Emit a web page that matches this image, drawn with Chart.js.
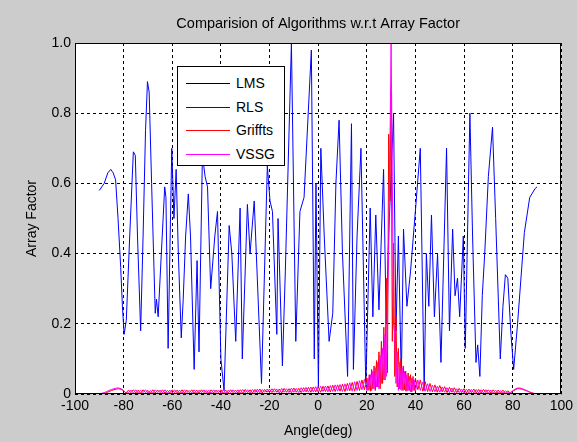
<!DOCTYPE html>
<html>
<head>
<meta charset="utf-8">
<title>Comparision of Algorithms w.r.t Array Factor</title>
<script src="https://cdn.jsdelivr.net/npm/chart.js@4.4.1/dist/chart.umd.min.js"></script>
<style>
  html, body { margin: 0; padding: 0; background: #cccccc; }
  #wrap { position: relative; width: 577px; height: 442px; }
  #legend {
    position: absolute; left: 177px; top: 66px; width: 106px; height: 98px;
    background: #fff; border: 1px solid #000;
    font: 14px 'Liberation Sans', Arial, sans-serif; color: #000;
  }
  #legend .row { position: absolute; left: 0; height: 18px; display: flex; align-items: center; }
  #legend .swatch { margin-left: 8px; width: 44px; height: 0; border-top: 1px solid; }
  #legend .label { margin-left: 6px; }
</style>
</head>
<body>
<div id="wrap">
  <canvas id="afChart" width="577" height="442"></canvas>
  <div id="legend"></div>
</div>
<script>
// Array factor vs. angle for four adaptive beamforming algorithms.

const TITLE = 'Comparision of Algorithms w.r.t Array Factor';
const X_TITLE = 'Angle(deg)';
const Y_TITLE = 'Array Factor';
const SERIES_NAMES = ['LMS', 'RLS', 'Griffts', 'VSSG'];
const X_TICKS = [-100, -80, -60, -40, -20, 0, 20, 40, 60, 80, 100];
const Y_TICKS = [0, 0.2, 0.4, 0.6, 0.8, 1];

// RLS: peaks and nulls of the blue trace
const RLS_ANGLES = [
  -90, -88, -86.5, -85.3, -84.3, -83.3, -82.3, -81.2, -80.5, -79.8,
  -78.9, -77.5, -76, -75.2, -74.3, -73, -72, -71, -70.2, -69.5,
  -68.5, -67, -66.5, -65.8, -64.5, -63.1, -62.6, -61.7, -60.2, -59.3,
  -58.4, -57.5, -56.3, -55.5, -54.5, -53.4, -52.5, -51, -49.8, -49,
  -47.6, -46.5, -45.5, -44.2, -42.5, -41.4, -40, -38.7, -38.2, -36.6,
  -35.5, -33.9, -32.1, -31.2, -29.1, -28, -26.3, -23.3, -20.9, -19.8,
  -18.8, -17, -16.5, -14.7, -13.5, -11, -9.2, -7.5, -5.8, -2.8,
  -1.6, -0.9, 0.1, 1.1, 2.5, 4.5, 6, 7.3, 8.6, 10,
  12.1, 13.7, 14.5, 16, 17.6, 19.6, 21.4, 22.5, 23.7, 25,
  26.9, 28, 29, 31, 32, 33, 34.2, 35.1, 36.5, 38,
  40.2, 42, 43.6, 44.5, 45.5, 46.6, 47.8, 49.1, 50.5, 52.8,
  54, 55.3, 56.3, 57.3, 58.2, 59.7, 60.5, 62.4, 63.5, 64.9,
  65.6, 66.5, 67.5, 68.5, 70, 71.7, 73, 74.9, 76, 77,
  78, 79.2, 80.4, 82, 84.8, 87, 89.3, 90
];
const RLS_VALUES = [
  0.58, 0.60, 0.63, 0.64, 0.63, 0.61, 0.50, 0.36, 0.25, 0.17,
  0.21, 0.45, 0.69, 0.68, 0.45, 0.18, 0.45, 0.75, 0.89, 0.86,
  0.60, 0.23, 0.27, 0.22, 0.40, 0.59, 0.56, 0.13, 0.70, 0.50,
  0.64, 0.40, 0.16, 0.27, 0.45, 0.57, 0.45, 0.07, 0.38, 0.12,
  0.68, 0.62, 0.59, 0.30, 0.45, 0.52, 0.10, 0.01, 0.12, 0.48,
  0.40, 0.15, 0.53, 0.10, 0.54, 0.40, 0.55, 0.03, 0.65, 0.55,
  0.52, 0.17, 0.50, 0.08, 0.35, 1.00, 0.15, 0.52, 0.56, 0.98,
  0.10, 0.60, 0.02, 0.70, 0.45, 0.15, 0.23, 0.60, 0.78, 0.40,
  0.05, 0.77, 0.07, 0.45, 0.70, 0.02, 0.53, 0.22, 0.51, 0.24,
  0.64, 0.20, 0.45, 0.80, 0.18, 0.45, 0.04, 0.47, 0.25, 0.35,
  0.54, 0.70, 0.01, 0.40, 0.25, 0.51, 0.22, 0.40, 0.09, 0.70,
  0.18, 0.47, 0.28, 0.33, 0.22, 0.45, 0.13, 0.80, 0.45, 0.09,
  0.14, 0.05, 0.28, 0.40, 0.62, 0.76, 0.50, 0.10, 0.25, 0.34,
  0.33, 0.18, 0.07, 0.20, 0.46, 0.56, 0.586, 0.59
];
// LMS coincides with RLS in the figure; it is completely covered by the
// blue trace, so it stays in the data but is not stroked.
const LMS_VALUES = RLS_VALUES;

// Griffiths / VSSG share one angle grid (finer around the 30 deg look direction)
const AF_ANGLES = [
  -90, -89, -88, -87, -86, -85, -84, -83, -82, -81,
  -80, -79, -78, -77, -76, -75, -74, -73, -72, -71,
  -70, -69, -68, -67, -66, -65, -64, -63, -62, -61,
  -60, -59, -58, -57, -56, -55, -54, -53, -52, -51,
  -50, -49, -48, -47, -46, -45, -44, -43, -42, -41,
  -40, -39, -38, -37, -36, -35, -34, -33, -32, -31,
  -30, -29, -28, -27, -26, -25, -24, -23, -22, -21,
  -20, -19, -18, -17, -16, -15, -14, -13, -12, -11,
  -10, -9, -8, -7, -6, -5, -4, -3, -2, -1,
  0, 1, 2, 3, 4, 5, 6, 7, 8, 9,
  10, 11, 12, 13, 14, 15, 16, 17, 18, 19,
  20, 20.5, 21, 21.5, 22, 22.5, 23, 23.5, 24, 24.5,
  25, 25.5, 26, 26.5, 27, 27.5, 28, 28.5, 29, 29.5,
  30, 30.5, 31, 31.5, 32, 32.5, 33, 33.5, 34, 34.5,
  35, 35.5, 36, 36.5, 37, 37.5, 38, 38.5, 39, 39.5,
  40, 41, 42, 43, 44, 45, 46, 47, 48, 49,
  50, 51, 52, 53, 54, 55, 56, 57, 58, 59,
  60, 61, 62, 63, 64, 65, 66, 67, 68, 69,
  70, 71, 72, 73, 74, 75, 76, 77, 78, 79,
  80, 81, 82, 83, 84, 85, 86, 87, 88, 89,
  90
];
const GRIF_VALUES = [
  0.000, 0.001, 0.002, 0.004, 0.007, 0.010, 0.012, 0.014, 0.015, 0.013,
  0.009, 0.003, 0.011, 0.004, 0.012, 0.003, 0.011, 0.002, 0.012, 0.004,
  0.010, 0.002, 0.012, 0.003, 0.011, 0.004, 0.012, 0.002, 0.010, 0.003,
  0.012, 0.004, 0.011, 0.002, 0.012, 0.003, 0.011, 0.004, 0.012, 0.002,
  0.011, 0.003, 0.012, 0.004, 0.010, 0.002, 0.012, 0.003, 0.011, 0.004,
  0.012, 0.002, 0.011, 0.003, 0.012, 0.004, 0.011, 0.003, 0.012, 0.002,
  0.013, 0.004, 0.012, 0.003, 0.013, 0.004, 0.014, 0.003, 0.013, 0.005,
  0.014, 0.004, 0.015, 0.005, 0.014, 0.003, 0.016, 0.005, 0.015, 0.004,
  0.017, 0.005, 0.016, 0.004, 0.018, 0.006, 0.019, 0.005, 0.020, 0.006,
  0.021, 0.005, 0.022, 0.007, 0.023, 0.006, 0.025, 0.007, 0.026, 0.008,
  0.028, 0.007, 0.030, 0.009, 0.033, 0.008, 0.036, 0.010, 0.040, 0.012,
  0.045, 0.010, 0.055, 0.008, 0.070, 0.015, 0.080, 0.010, 0.095, 0.020,
  0.120, 0.015, 0.150, 0.030, 0.190, 0.040, 0.330, 0.060, 0.740, 0.550,
  0.860, 0.150, 0.430, 0.050, 0.220, 0.020, 0.130, 0.015, 0.100, 0.010,
  0.080, 0.012, 0.065, 0.008, 0.060, 0.010, 0.055, 0.006, 0.050, 0.010,
  0.045, 0.012, 0.040, 0.008, 0.035, 0.007, 0.030, 0.006, 0.026, 0.005,
  0.024, 0.006, 0.021, 0.004, 0.019, 0.005, 0.018, 0.004, 0.016, 0.004,
  0.015, 0.003, 0.014, 0.004, 0.014, 0.003, 0.013, 0.003, 0.013, 0.004,
  0.012, 0.003, 0.012, 0.002, 0.011, 0.003, 0.011, 0.002, 0.009, 0.003,
  0.008, 0.012, 0.015, 0.015, 0.013, 0.011, 0.008, 0.005, 0.003, 0.001,
  0.000
];
const VSSG_VALUES = [
  0.000, 0.002, 0.004, 0.007, 0.010, 0.013, 0.015, 0.017, 0.017, 0.015,
  0.010, 0.002, 0.004, 0.011, 0.003, 0.012, 0.002, 0.011, 0.004, 0.012,
  0.003, 0.010, 0.002, 0.012, 0.004, 0.011, 0.003, 0.012, 0.002, 0.011,
  0.004, 0.012, 0.003, 0.011, 0.002, 0.012, 0.004, 0.010, 0.003, 0.012,
  0.002, 0.011, 0.004, 0.012, 0.003, 0.011, 0.002, 0.012, 0.004, 0.011,
  0.003, 0.012, 0.002, 0.011, 0.004, 0.012, 0.003, 0.012, 0.002, 0.013,
  0.004, 0.012, 0.003, 0.013, 0.004, 0.014, 0.003, 0.013, 0.005, 0.014,
  0.004, 0.015, 0.005, 0.014, 0.003, 0.016, 0.005, 0.015, 0.004, 0.017,
  0.005, 0.016, 0.004, 0.018, 0.006, 0.019, 0.005, 0.020, 0.006, 0.021,
  0.005, 0.022, 0.007, 0.023, 0.006, 0.024, 0.007, 0.026, 0.008, 0.027,
  0.007, 0.029, 0.009, 0.032, 0.008, 0.035, 0.010, 0.038, 0.012, 0.042,
  0.010, 0.045, 0.012, 0.055, 0.010, 0.065, 0.015, 0.075, 0.020, 0.090,
  0.015, 0.110, 0.030, 0.130, 0.040, 0.170, 0.050, 0.250, 0.420, 0.690,
  1.000, 0.620, 0.200, 0.170, 0.030, 0.120, 0.010, 0.090, 0.012, 0.075,
  0.010, 0.065, 0.008, 0.055, 0.010, 0.050, 0.006, 0.045, 0.010, 0.040,
  0.008, 0.040, 0.010, 0.034, 0.008, 0.029, 0.007, 0.025, 0.006, 0.022,
  0.005, 0.020, 0.005, 0.018, 0.004, 0.017, 0.004, 0.015, 0.004, 0.014,
  0.003, 0.014, 0.003, 0.013, 0.003, 0.013, 0.003, 0.012, 0.003, 0.012,
  0.002, 0.011, 0.003, 0.011, 0.002, 0.010, 0.002, 0.009, 0.003, 0.004,
  0.009, 0.014, 0.017, 0.017, 0.015, 0.012, 0.009, 0.006, 0.003, 0.001,
  0.000
];

const COLORS = ['#000000', '#0000ff', '#ff0000', '#ff00ff'];
const FONT = "'Liberation Sans', Arial, Helvetica, sans-serif";

function toPoints(xs, ys) {
  return xs.map((x, i) => ({ x: x, y: ys[i] }));
}

// white axes box on the grey figure, solid frame on all four sides
const axesBox = {
  id: 'axesBox',
  beforeDraw(chart) {
    const { ctx, chartArea: a } = chart;
    ctx.save();
    ctx.fillStyle = '#ffffff';
    ctx.fillRect(a.left, a.top, a.right - a.left, a.bottom - a.top);
    ctx.restore();
  },
  afterDraw(chart) {
    const { ctx, chartArea: a } = chart;
    ctx.save();
    ctx.strokeStyle = '#000000';
    ctx.lineWidth = 1;
    ctx.strokeRect(Math.round(a.left) + 0.5, Math.round(a.top) + 0.5,
      Math.round(a.right - a.left) - 1, Math.round(a.bottom - a.top) - 1);
    ctx.restore();
  }
};

const seriesData = [
  toPoints(RLS_ANGLES, LMS_VALUES),
  toPoints(RLS_ANGLES, RLS_VALUES),
  toPoints(AF_ANGLES, GRIF_VALUES),
  toPoints(AF_ANGLES, VSSG_VALUES)
];

new Chart(document.getElementById('afChart'), {
  type: 'line',
  data: {
    datasets: SERIES_NAMES.map((name, i) => ({
      label: name,
      data: seriesData[i],
      borderColor: COLORS[i],
      backgroundColor: COLORS[i],
      borderWidth: 1,
      pointRadius: 0,
      tension: 0,
      fill: false,
      hidden: name === 'LMS',          // fully covered by RLS in the original
      order: SERIES_NAMES.length - i   // later series on top, as in MATLAB
    }))
  },
  options: {
    responsive: false,
    animation: false,
    events: [],
    layout: { padding: { left: 0, right: 15, top: 0, bottom: 0 } },
    plugins: {
      legend: { display: false },
      tooltip: { enabled: false },
      title: {
        display: true,
        text: TITLE,
        fullSize: false,
        color: '#000',
        font: { family: FONT, size: 14.5, weight: 'normal' },
        padding: { top: 15, bottom: 10.6 }
      }
    },
    scales: {
      x: {
        type: 'linear',
        min: X_TICKS[0],
        max: X_TICKS[X_TICKS.length - 1],
        afterBuildTicks: (s) => { s.ticks = X_TICKS.map(v => ({ value: v })); },
        afterFit: (s) => { s.height = 48; },
        ticks: { color: '#000', padding: 4, maxRotation: 0, autoSkip: false, font: { family: FONT, size: 14 } },
        grid: { color: '#000', lineWidth: 1, drawTicks: false },
        border: { display: false, dash: [3, 3] },
        title: { display: true, text: X_TITLE, color: '#000', font: { family: FONT, size: 14 }, padding: { top: 0, bottom: 2 } }
      },
      y: {
        type: 'linear',
        min: Y_TICKS[0],
        max: Y_TICKS[Y_TICKS.length - 1],
        afterBuildTicks: (s) => { s.ticks = Y_TICKS.map(v => ({ value: v })); },
        afterFit: (s) => { s.width = 75; },
        ticks: { color: '#000', padding: 4, autoSkip: false, font: { family: FONT, size: 14 } },
        grid: { color: '#000', lineWidth: 1, drawTicks: false },
        border: { display: false, dash: [3, 3] },
        title: { display: true, text: Y_TITLE, color: '#000', font: { family: FONT, size: 14 }, padding: { top: 24, bottom: 0 } }
      }
    }
  },
  plugins: [axesBox]
});

// MATLAB-style legend box inside the axes
const legendBox = document.getElementById('legend');
const ROW_CENTERS = [16, 40, 63, 87];
SERIES_NAMES.forEach((name, i) => {
  const row = document.createElement('div');
  row.className = 'row';
  row.style.top = (ROW_CENTERS[i] - 9) + 'px';
  row.innerHTML = '<span class="swatch" style="border-color:' + COLORS[i] + '"></span>' +
    '<span class="label">' + name + '</span>';
  legendBox.appendChild(row);
});
</script>
</body>
</html>
